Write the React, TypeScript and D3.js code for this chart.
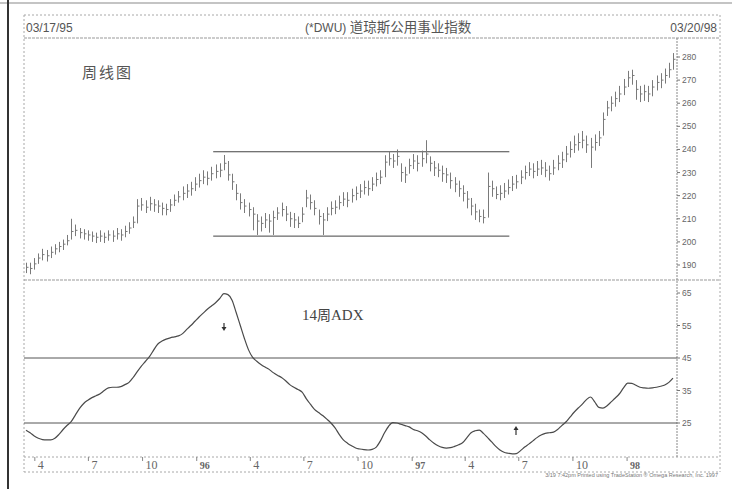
import * as d3 from "d3";

// ─── Data (weekly bars) ──────────────────────────────────────────────────────

const START = "1995-03-17";
const END = "1998-03-20";

const HIGHS = [
  191, 191, 193, 195, 197, 196.5, 198, 199, 200, 201,
  203, 210, 207.5, 206, 205.5, 205, 204.5, 204, 205, 204,
  205, 205, 206, 205.5, 207, 208.5, 211, 218.5, 219, 218,
  219.5, 218.5, 218, 217, 216.5, 218.5, 220.5, 222, 224, 225,
  226, 228, 229.5, 231, 230.5, 232.5, 233.5, 234, 237.6, 235,
  229.5, 225, 221, 218.5, 217, 215, 212, 211, 212.5, 212,
  213.5, 215, 217, 215.5, 213, 212.5, 211, 215, 222.5, 220.5,
  218, 214, 212.5, 215, 217.5, 218, 220, 221.5, 221.5, 223,
  224, 225, 226.5, 226.5, 228, 230, 231, 237.5, 239, 238,
  240, 234, 232.5, 236, 238, 237.5, 239.5, 244, 237, 235,
  234, 233, 232, 230, 228, 226.5, 224.5, 222, 219, 216.5,
  214, 214, 230, 226.5, 224, 224.5, 225.5, 227, 228.5, 229,
  231, 233, 234.5, 234, 235, 235.5, 234.5, 233, 235.5, 237.5,
  239, 241.5, 243.5, 246, 247, 248, 246, 245, 246.5, 248,
  256, 261, 263, 265, 267.5, 270.5, 274, 274.5, 270, 267.5,
  268, 267.5, 270, 272, 273, 275, 277.5, 281.7,
];

const LOWS = [
  186.5, 186, 188, 190.5, 192, 191.5, 193, 194.5, 195.5, 196.5,
  198.5, 201, 202.5, 201.5, 201, 200.5, 200, 199.5, 200, 199.5,
  200.5, 200, 201, 200.5, 202, 203.5, 206, 208, 213.5, 212.5,
  213.5, 213, 212.5, 211.5, 211.5, 213, 215.5, 217, 218, 219,
  220, 222, 223.5, 225, 224.5, 226.5, 227.5, 228, 231, 226.5,
  222.5, 218, 214, 212.5, 211, 205, 203, 204.5, 206, 204,
  203, 209.5, 211, 209, 206.5, 206, 206, 208.5, 215, 214,
  211.5, 207.5, 203, 209, 211.5, 212, 214, 215.5, 215, 217,
  218, 219, 220.5, 220, 222, 224, 225, 228, 233, 232,
  233, 226, 225.5, 229.5, 231.5, 230.5, 232.5, 234, 230.5, 228.5,
  228, 226, 225.5, 223, 221.5, 219.5, 217.5, 214.5, 211.5, 209.5,
  208.5, 208, 210.5, 219.5, 218.5, 218, 219, 220.5, 222, 223,
  225, 227, 228.5, 227.5, 228.5, 229, 228, 226.5, 229, 231,
  232, 234.5, 236.5, 238.5, 239.5, 240.5, 238.5, 232, 239.5, 241.5,
  246, 254.5, 256.5, 258.5, 260.5, 263.5, 267, 268, 261.5, 260.5,
  261, 260.5, 263, 265.5, 266.5, 268.5, 271, 274.5,
];

const CLOSES = [
  189, 188.5, 190.5, 193, 194.5, 194, 195.5, 197, 198, 199,
  200.5, 204.5, 205, 204, 203.5, 203, 202.5, 202, 202.5, 202,
  203, 202.5, 203.5, 203, 204.5, 206, 208.5, 215.5, 216, 215,
  216.5, 216, 215.5, 214.5, 214, 216, 218, 219.5, 221, 222,
  223, 225, 226.5, 228, 227.5, 229.5, 230.5, 231, 234, 229,
  226, 221, 217, 215.5, 214, 212, 209, 208, 209.5, 209,
  210.5, 212.5, 214, 212, 210, 209.5, 208, 212, 219, 217,
  214.5, 211, 209.5, 212, 214.5, 215, 217, 218.5, 218, 220,
  221, 222, 223.5, 223, 225, 227, 228, 234.5, 236, 235,
  237, 230, 229, 233, 235, 234, 236, 238, 234, 232,
  231, 229.5, 229, 226.5, 225, 223, 221, 218.5, 215.5, 213,
  211, 210.5, 224, 223, 220.5, 221, 222, 223.5, 225, 226,
  228, 230, 231.5, 230.5, 231.5, 232, 231, 229.5, 232, 234,
  235.5, 238, 240, 242, 243, 244, 242, 241, 243, 245,
  253, 258, 260, 262, 264, 267, 271, 272, 266, 264,
  265, 264, 267, 269, 270, 272, 274.5, 279,
];

// 14-week ADX
const ADX = [
  22.8, 22.0, 21.0, 20.3, 19.9, 19.8, 19.8, 20.3, 21.5, 23.0,
  24.3, 25.5, 27.5, 29.5, 31.0, 32.0, 32.8, 33.4, 34.0, 35.0,
  35.8, 36.0, 36.0, 36.2, 36.8, 37.5, 39.0, 40.8, 42.5, 44.0,
  45.5, 47.5, 49.3, 50.2, 50.8, 51.2, 51.5, 51.8, 52.5, 53.8,
  55.0, 56.3, 57.6, 58.8, 60.0, 61.0, 62.0, 63.3, 64.8, 64.5,
  62.8, 59.0, 55.0, 51.0, 47.5, 45.2, 44.0, 43.0, 42.2, 41.5,
  40.5, 39.7, 39.0, 38.0, 36.8, 36.0, 35.3, 34.5, 32.5, 30.8,
  29.2, 28.2, 27.3, 26.2, 25.0, 23.5, 21.5, 19.8, 18.8, 18.0,
  17.3, 17.0, 16.8, 16.7, 16.9, 17.6, 19.5, 22.0, 24.0, 25.1,
  25.0, 24.6, 24.2, 23.8, 23.0, 22.6, 22.0, 21.0, 19.8, 18.8,
  18.0, 17.5, 17.3, 17.4, 17.8, 18.3, 19.0, 20.5, 22.0, 22.6,
  22.8, 21.8, 20.5, 19.2, 17.8, 16.7, 16.0, 15.7, 15.5, 15.6,
  16.5, 17.6, 18.5, 19.5, 20.5, 21.3, 21.8, 22.0, 22.2, 23.0,
  24.2, 25.3, 26.8, 28.3, 29.6, 30.8, 32.2, 33.0, 31.5, 29.8,
  29.6, 30.3, 31.5, 32.7, 34.0, 35.8, 37.3, 37.2, 36.6, 36.0,
  35.8, 35.7, 35.8, 36.0, 36.3, 36.7, 37.5, 38.8,
];

const PRICE_TICKS = [280, 270, 260, 250, 240, 230, 220, 210, 200, 190];
const ADX_TICKS = [65, 55, 45, 35, 25];
const ADX_LEVELS = [45, 25];
const RANGE_TOP = 239;
const RANGE_BOTTOM = 202.5;
const RANGE_FROM = "1996-01-29";
const RANGE_TO = "1997-06-15";

const X_TICK_DATES = [
  "1995-04-01", "1995-07-01", "1995-10-01", "1996-01-01",
  "1996-04-01", "1996-07-01", "1996-10-01", "1997-01-01",
  "1997-04-01", "1997-07-01", "1997-10-01", "1998-01-01",
];
const X_TICK_LABELS = ["4", "7", "10", "96", "4", "7", "10", "97", "4", "7", "10", "98"];
const YEAR_LABELS = ["96", "97", "98"];

// ─── Layout ──────────────────────────────────────────────────────────────────

const W = 732;
const H = 489;
const L = 24; // inner frame left
const R = 720; // inner frame right
const AX = 677; // right value axis
const TOP = 15;
const TITLE_B = 38;
const MID = 280;
const ADX_B = 457;
const XAX_B = 472;

const GRAY = "#555";
const FRAME = "#a8a8a8";
const SANS = "'Liberation Sans', Arial, sans-serif";
const SERIF = "'Liberation Serif', 'Times New Roman', serif";
const CJK = "'Noto Sans CJK SC', sans-serif";

const parse = d3.timeParse("%Y-%m-%d");

export default function App() {
  const start = parse(START)!;
  const dates = CLOSES.map((_, i) => d3.timeWeek.offset(start, i));

  const x = d3.scaleTime().domain([start, parse(END)!]).range([26, 673]);
  const yP = d3.scaleLinear().domain([190, 280]).range([265, 57]);
  const yA = d3.scaleLinear().domain([25, 65]).range([423, 293]);

  const adxLine = d3
    .line<number>()
    .x((_, i) => x(dates[i]))
    .y((d) => yA(d))
    .curve(d3.curveMonotoneX);

  const dash = "2,2";

  return (
    <div style={{ position: "fixed", left: 0, top: 0, background: "#fff" }}>
      <svg width={W} height={H} style={{ display: "block" }}>
        <rect width={W} height={H} fill="#fff" />

        {/* outer page border */}
        <line x1={0} x2={W} y1={3} y2={3} stroke="#8a8a8a" strokeWidth={1.2} />
        <line x1={8} x2={8} y1={0} y2={H} stroke="#333" strokeWidth={2} />

        {/* inner frame */}
        <line x1={L} x2={R} y1={TOP} y2={TOP} stroke={FRAME} strokeDasharray={dash} />
        <line x1={L} x2={L} y1={TOP} y2={XAX_B} stroke={FRAME} strokeDasharray={dash} />
        <line x1={R} x2={R} y1={TOP} y2={XAX_B} stroke={FRAME} strokeDasharray={dash} />
        <line x1={L} x2={R} y1={TITLE_B} y2={TITLE_B} stroke="#999" strokeDasharray="3,1" />
        <line x1={L} x2={R} y1={MID} y2={MID} stroke="#999" strokeDasharray="3,1" />
        <line x1={L} x2={R} y1={ADX_B} y2={ADX_B} stroke={FRAME} strokeDasharray={dash} />
        <line x1={L} x2={R} y1={XAX_B} y2={XAX_B} stroke={FRAME} strokeDasharray={dash} />
        <line x1={AX} x2={AX} y1={TITLE_B} y2={ADX_B} stroke="#888" strokeDasharray="2,1" />

        {/* title row */}
        <text x={26} y={32} fontFamily={SANS} fontSize={12} fill={GRAY}>
          03/17/95
        </text>
        <text x={305} y={32} fontSize={13.5} fill={GRAY}>
          <tspan fontFamily={SANS} fontSize={12}>(*DWU) </tspan>
          <tspan fontFamily={CJK}>道琼斯公用事业指数</tspan>
        </text>
        <text x={717} y={32} textAnchor="end" fontFamily={SANS} fontSize={12} fill={GRAY}>
          03/20/98
        </text>

        <text x={82} y={78} fontFamily={CJK} fontSize={15} letterSpacing={2} fill={GRAY}>
          周线图
        </text>

        {/* price axis */}
        {PRICE_TICKS.map((t) => (
          <g key={`p${t}`}>
            <line x1={AX} x2={AX + 3} y1={yP(t)} y2={yP(t)} stroke="#777" />
            <text x={AX + 5} y={yP(t) + 3} fontFamily={SANS} fontSize={8.5} fill="#666">
              {t}
            </text>
          </g>
        ))}

        {/* range lines */}
        {[RANGE_TOP, RANGE_BOTTOM].map((v) => (
          <line
            key={`r${v}`}
            x1={x(parse(RANGE_FROM)!)}
            x2={x(parse(RANGE_TO)!)}
            y1={yP(v)}
            y2={yP(v)}
            stroke="#444"
            strokeWidth={1}
          />
        ))}

        {/* weekly bars */}
        {dates.map((d, i) => {
          const cx = Math.round(x(d)) + 0.5;
          return (
            <g key={`b${i}`} stroke="#7a7a7a" strokeWidth={1}>
              <line x1={cx} x2={cx} y1={yP(HIGHS[i])} y2={yP(LOWS[i])} />
              <line x1={cx} x2={cx + 2} y1={yP(CLOSES[i])} y2={yP(CLOSES[i])} />
            </g>
          );
        })}

        {/* ADX panel */}
        <text x={302} y={320} fontSize={15} fill="#444">
          <tspan fontFamily={SERIF}>14</tspan>
          <tspan fontFamily={CJK} fontSize={14}>周</tspan>
          <tspan fontFamily={SERIF}>ADX</tspan>
        </text>
        {ADX_TICKS.map((t) => (
          <g key={`a${t}`}>
            <line x1={AX} x2={AX + 3} y1={yA(t)} y2={yA(t)} stroke="#777" />
            <text x={AX + 5} y={yA(t) + 3} fontFamily={SANS} fontSize={8.5} fill="#666">
              {t}
            </text>
          </g>
        ))}
        {ADX_LEVELS.map((v) => (
          <line key={`l${v}`} x1={L} x2={AX} y1={yA(v)} y2={yA(v)} stroke="#555" strokeWidth={1} />
        ))}
        <path d={adxLine(ADX) ?? ""} fill="none" stroke="#4a4a4a" strokeWidth={1.2} />

        {/* arrows */}
        <g fill="#333" stroke="#333">
          <line x1={224} x2={224} y1={323} y2={329} strokeWidth={1.2} />
          <path d="M221.5,327 L226.5,327 L224,331 Z" stroke="none" />
          <line x1={516} x2={516} y1={429} y2={435} strokeWidth={1.2} />
          <path d="M513.5,430 L518.5,430 L516,426 Z" stroke="none" />
        </g>

        {/* time axis */}
        {X_TICK_DATES.map((s, i) => {
          const tx = x(parse(s)!);
          const isYear = YEAR_LABELS.includes(X_TICK_LABELS[i]);
          return (
            <g key={`x${i}`}>
              <line x1={tx} x2={tx} y1={ADX_B} y2={ADX_B + 4} stroke="#888" />
              <text
                x={tx + 3}
                y={469}
                fontFamily={SERIF}
                fontSize={isYear ? 10 : 12}
                fontWeight={isYear ? 700 : 400}
                fill="#666"
              >
                {X_TICK_LABELS[i]}
              </text>
            </g>
          );
        })}

        <text x={718} y={477} textAnchor="end" fontFamily={SANS} fontSize={5.5} fill="#777">
          3/19 7:42pm Printed using TradeStation ® Omega Research, Inc. 1997
        </text>
      </svg>
    </div>
  );
}
